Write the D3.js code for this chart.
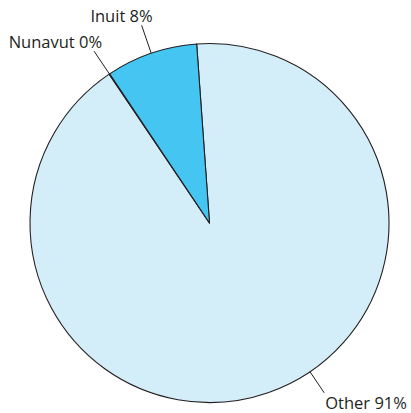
<!DOCTYPE html>
<html>
<head>
<meta charset="utf-8">
<script src="https://cdn.jsdelivr.net/npm/d3@7"></script>
<style>
html,body{margin:0;padding:0;background:#fff;}
svg{display:block;}
text{font-family:"Open Sans",sans-serif;font-size:16.5px;fill:#231f20;}
</style>
</head>
<body>
<svg id="chart" width="411" height="413"></svg>
<script>
const categories = ["Other", "Nunavut", "Inuit"];
const values = [91.7, 0.05, 8.25];
const labels = ["Other 91%", "Nunavut 0%", "Inuit 8%"];
const colors = ["#d3edf9", "#45c6f2", "#45c6f2"];

const W = 411, H = 413;
const cx = 209.5, cy = 223, R = 179.5;
const startDeg = -4.1;
const svg = d3.select("#chart");
const g = svg.append("g").attr("transform", `translate(${cx},${cy})`);

const data = categories.map((c, i) => ({cat: c, value: values[i], label: labels[i], color: colors[i]}));
const pie = d3.pie().sort(null).value(d => d.value)
  .startAngle(startDeg * Math.PI / 180)
  .endAngle((startDeg + 360) * Math.PI / 180);
const arcs = pie(data);
const arc = d3.arc().innerRadius(0).outerRadius(R);

g.selectAll("path.slice").data(arcs).join("path")
  .attr("class", "slice")
  .attr("d", arc)
  .attr("fill", d => d.data.color)
  .attr("stroke", "#231f20")
  .attr("stroke-width", 1.1)
  .attr("stroke-linejoin", "round");

// label configuration: angle offset (deg) from slice mid, text placement
const labelCfg = {
  "Other":   {dAng: -15, r2: 205, anchor: "start", dx: 1,  dy: 16},
  "Nunavut": {dAng: 0,   r2: 207, anchor: "end",   dx: 8,  dy: -3},
  "Inuit":   {dAng: 0,   r2: 209, anchor: "end",   dx: 11, dy: -3}
};
const pt = (a, r) => [Math.sin(a) * r, -Math.cos(a) * r];
arcs.forEach(d => {
  const cfg = labelCfg[d.data.cat];
  const a = (d.startAngle + d.endAngle) / 2 + cfg.dAng * Math.PI / 180;
  const p1 = pt(a, R), p2 = pt(a, cfg.r2);
  g.append("line")
    .attr("x1", p1[0]).attr("y1", p1[1])
    .attr("x2", p2[0]).attr("y2", p2[1])
    .attr("stroke", "#231f20").attr("stroke-width", 1);
  g.append("text")
    .attr("x", p2[0] + cfg.dx).attr("y", p2[1] + cfg.dy)
    .attr("text-anchor", cfg.anchor)
    .text(d.data.label);
});
</script>
</body>
</html>
